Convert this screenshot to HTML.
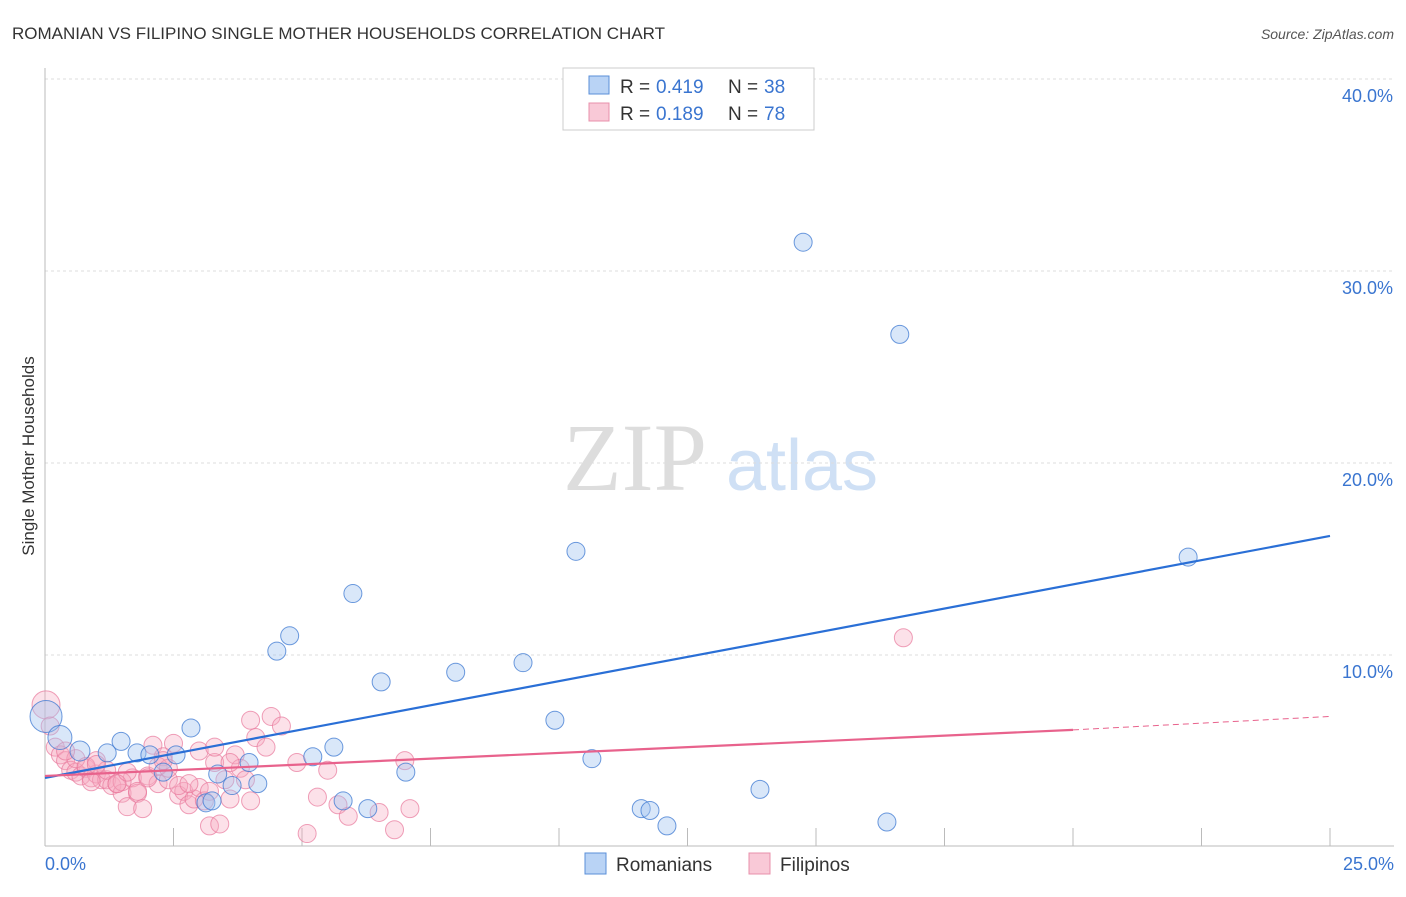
<!DOCTYPE html>
<html><head><meta charset="utf-8"><style>
body{margin:0;background:#fff;font-family:"Liberation Sans",sans-serif}
svg text{font-family:"Liberation Sans",sans-serif}
</style></head><body>
<svg width="1406" height="892">
<text x="12" y="39" font-size="17" fill="#333">ROMANIAN VS FILIPINO SINGLE MOTHER HOUSEHOLDS CORRELATION CHART</text>
<text x="1394" y="39" font-size="14" fill="#555" font-style="italic" text-anchor="end">Source: ZipAtlas.com</text>
<text x="635" y="490" font-size="96" fill="#ddd" style="font-family:'Liberation Serif',serif" text-anchor="middle">ZIP</text>
<text x="802" y="490" font-size="72" fill="#cfe0f5" text-anchor="middle">atlas</text>
<g id="grid"></g>
<line x1="45" y1="68" x2="45" y2="846" stroke="#bbb"/>
<line x1="45" y1="846" x2="1394" y2="846" stroke="#bbb"/>
<text transform="translate(34,456) rotate(-90)" font-size="17" fill="#333" text-anchor="middle">Single Mother Households</text>
<text x="45" y="870" font-size="18" fill="#3a75d0">0.0%</text>
<text x="1394" y="870" font-size="18" fill="#3a75d0" text-anchor="end">25.0%</text>
<g id="pts"></g>
<g id="lines"></g>
<g>
<rect x="563" y="68" width="251" height="62" fill="#fff" stroke="#ccc"/>
<rect x="589" y="76" width="20" height="18" fill="#b9d3f5" stroke="#5a8fd8"/>
<rect x="589" y="103" width="20" height="18" fill="#f9c9d7" stroke="#e890ab"/>
<text x="620" y="93" font-size="19" fill="#333">R =</text><text x="656" y="93" font-size="19" fill="#3a75d0">0.419</text>
<text x="728" y="93" font-size="19" fill="#333">N =</text><text x="764" y="93" font-size="19" fill="#3a75d0">38</text>
<text x="620" y="120" font-size="19" fill="#333">R =</text><text x="656" y="120" font-size="19" fill="#3a75d0">0.189</text>
<text x="728" y="120" font-size="19" fill="#333">N =</text><text x="764" y="120" font-size="19" fill="#3a75d0">78</text>
</g>
<g>
<rect x="585" y="853" width="21" height="21" fill="#b9d3f5" stroke="#5a8fd8"/>
<text x="616" y="871" font-size="19" fill="#333">Romanians</text>
<rect x="749" y="853" width="21" height="21" fill="#f9c9d7" stroke="#e890ab"/>
<text x="780" y="871" font-size="19" fill="#333">Filipinos</text>
</g>
</svg>
<script>
const yTicks=[10,20,30,40];
const xTicks=[2.5,5,7.5,10,12.5,15,17.5,20,22.5,25];
const romX=[0.02,0.29,0.68,1.21,1.48,1.79,2.04,2.30,2.55,2.84,3.13,3.36,3.64,3.97,4.14,4.51,4.76,5.21,5.62,5.80,5.99,6.28,6.54,7.02,7.99,9.30,9.92,10.33,10.64,11.60,11.77,12.10,13.91,14.75,16.38,16.63,22.24,3.25];
const romY=[6.8,5.7,5.0,4.9,5.5,4.9,4.8,3.9,4.8,6.2,2.3,3.8,3.2,4.4,3.3,10.2,11.0,4.7,5.2,2.4,13.2,2.0,8.6,3.9,9.1,9.6,6.6,15.4,4.6,2.0,1.9,1.1,3.0,31.5,1.3,26.7,15.1,2.4];
const romR=[16,12,10,9,9,9,9,9,9,9,9,9,9,9,9,9,9,9,9,9,9,9,9,9,9,9,9,9,9,9,9,9,9,9,9,9,9,9];
const filX=[0.02,0.1,0.2,0.3,0.4,0.5,0.6,0.7,0.8,0.9,1.0,1.1,1.2,1.3,1.4,1.5,1.6,1.7,1.8,1.9,2.0,2.1,2.2,2.3,2.4,2.5,2.6,2.7,2.8,2.9,3.0,3.1,3.2,3.3,3.4,3.5,3.6,3.7,3.8,3.9,4.0,4.1,4.3,4.4,4.6,4.9,5.1,5.3,5.5,5.7,5.9,6.5,6.8,7.0,7.1,1.0,1.5,1.8,2.2,2.6,3.0,3.2,0.6,0.8,1.2,1.4,2.0,2.4,2.8,3.3,3.6,4.0,0.4,1.0,1.6,2.3,16.7,0.9];
const filY=[7.4,6.3,5.2,4.8,4.5,4.0,3.9,3.7,4.1,3.6,3.8,3.5,3.5,3.2,3.3,2.8,2.1,3.6,2.8,2.0,3.7,5.3,3.3,4.7,3.5,5.4,2.7,2.9,2.2,2.5,3.1,2.4,1.1,4.4,1.2,3.5,2.5,4.8,4.1,3.5,6.6,5.7,5.2,6.8,6.3,4.4,0.7,2.6,4.0,2.2,1.6,1.8,0.9,4.5,2.0,4.5,3.4,2.9,4.2,3.2,5.0,2.9,4.6,4.2,4.0,3.3,3.6,4.1,3.3,5.2,4.4,2.4,5.0,4.3,3.9,4.5,10.9,3.4];
const romLine=[[0,3.6],[25,16.2]];
const filLine=[[0,3.7],[20,6.1],[25,6.8]];
const X=v=>45+v*51.4, Y=v=>847-v*19.2;
const NS='http://www.w3.org/2000/svg';
function mk(t,a,p){const e=document.createElementNS(NS,t);for(const k in a)e.setAttribute(k,a[k]);p.appendChild(e);return e;}
const grid=document.getElementById('grid');
yTicks.forEach(t=>{
 const l=mk('line',{x1:45,x2:1394,y1:Y(t),y2:Y(t),stroke:'#ddd','stroke-dasharray':'3,3'},grid);
 
 
 const tx=mk('text',{x:1393,y:Y(t)+23,'font-size':18,fill:'#3a75d0','text-anchor':'end'},grid);
 tx.textContent=t.toFixed(1)+'%';
 
 
});
xTicks.forEach(t=>{
 const l=mk('line',{x1:X(t),x2:X(t),y1:828,y2:846,stroke:'#bbb'},grid);
 
 
});
const pts=document.getElementById('pts');
filX.forEach((x,i)=>{
 const c=mk('circle',{cx:X(x),cy:Y(filY[i]),r:i==0?14:9,fill:'rgba(247,168,192,0.35)',stroke:'rgba(232,120,155,0.7)','stroke-width':1},pts);
 
 
});
romX.forEach((x,i)=>{
 const c=mk('circle',{cx:X(x),cy:Y(romY[i]),r:romR[i],fill:'rgba(160,195,240,0.4)',stroke:'rgba(60,120,210,0.75)','stroke-width':1},pts);
 
 
});
const lines=document.getElementById('lines');
const rl=mk('line',{x1:X(romLine[0][0]),y1:Y(romLine[0][1]),x2:X(romLine[1][0]),y2:Y(romLine[1][1]),stroke:'#2a6fd6','stroke-width':2.2},lines);


const fl=mk('line',{x1:X(filLine[0][0]),y1:Y(filLine[0][1]),x2:X(filLine[1][0]),y2:Y(filLine[1][1]),stroke:'#e8628c','stroke-width':2.2},lines);


const fd=mk('line',{x1:X(filLine[1][0]),y1:Y(filLine[1][1]),x2:X(filLine[2][0]),y2:Y(filLine[2][1]),stroke:'#e8628c','stroke-width':1,'stroke-dasharray':'6,4'},lines);


</script>
</body></html>
